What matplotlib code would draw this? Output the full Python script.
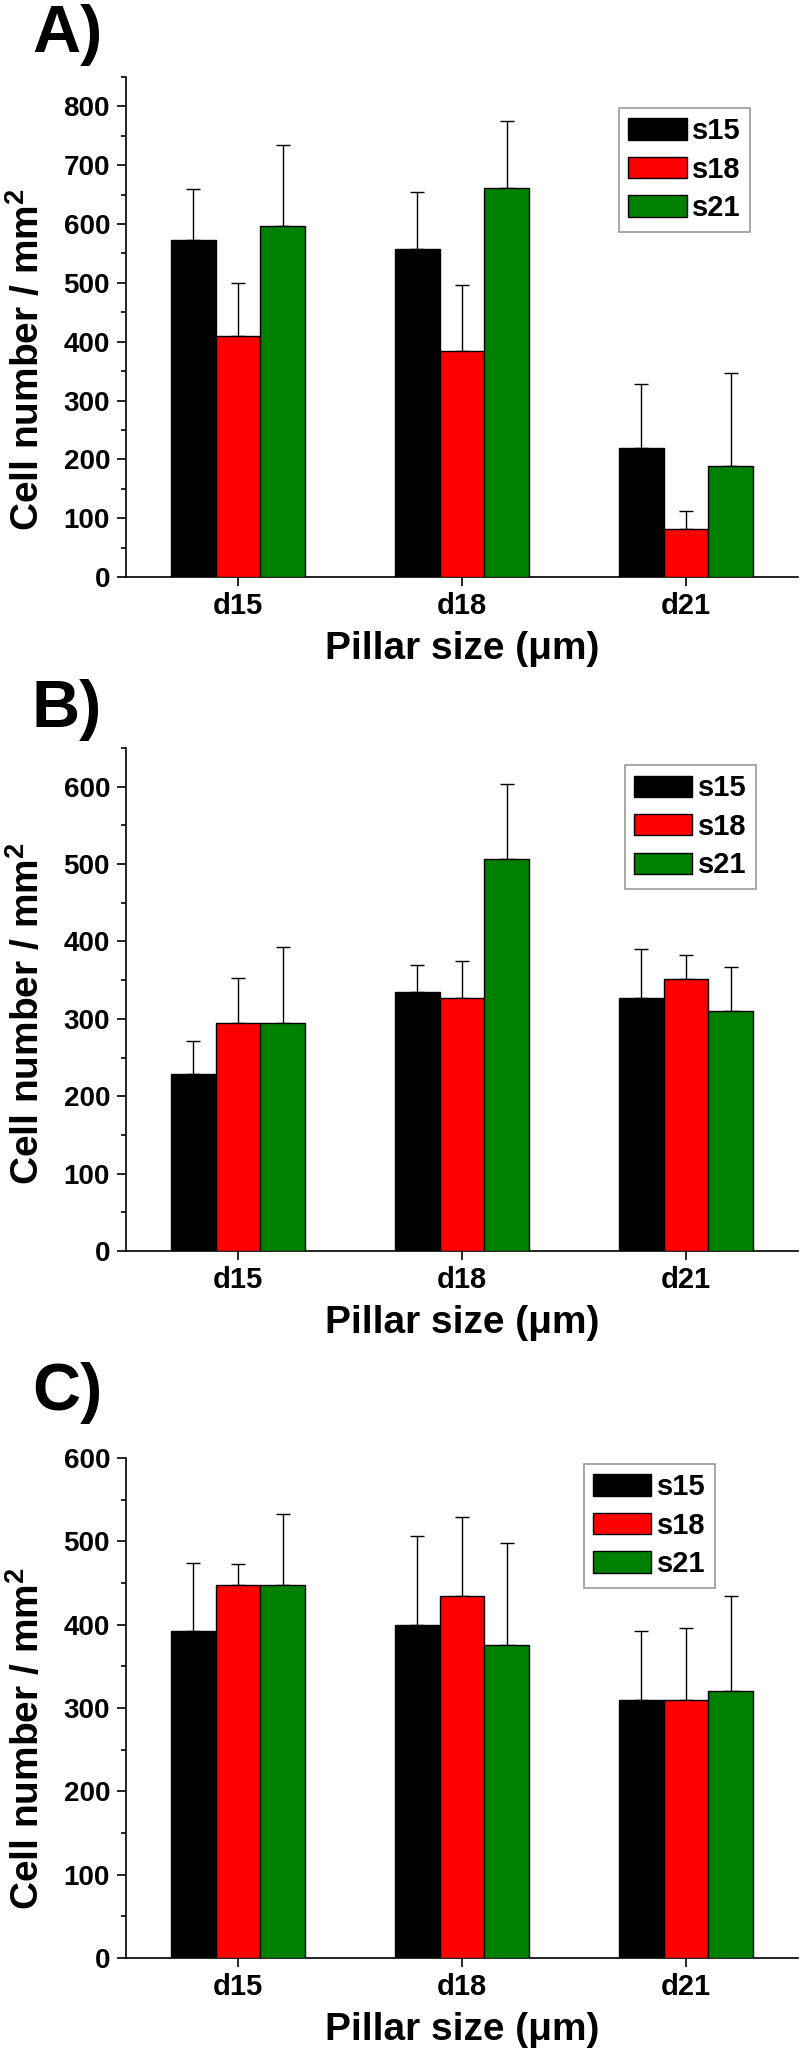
import matplotlib
matplotlib.use('Agg')
import matplotlib.pyplot as plt
from matplotlib.ticker import MultipleLocator, FixedLocator
import numpy as np

plt.rcParams['font.family'] = ['Liberation Sans', 'DejaVu Sans']
plt.rcParams['font.weight'] = 'bold'
plt.rcParams['mathtext.fontset'] = 'custom'
plt.rcParams['mathtext.bf'] = 'Liberation Sans:bold'
plt.rcParams['mathtext.rm'] = 'Liberation Sans:bold'
plt.rcParams['mathtext.default'] = 'bf'

# ---------------- data ----------------
categories = ['d15', 'd18', 'd21']
series = ['s15', 's18', 's21']
colors = ['#000000', '#ff0000', '#008000']

# Panel A
A_s15 = [573, 557, 220]
A_s15_err = [87, 98, 108]
A_s18 = [409, 385, 82]
A_s18_err = [90, 112, 30]
A_s21 = [597, 661, 188]
A_s21_err = [138, 115, 159]

# Panel B
B_s15 = [229, 335, 327]
B_s15_err = [43, 34, 63]
B_s18 = [294, 327, 351]
B_s18_err = [59, 48, 32]
B_s21 = [294, 506, 310]
B_s21_err = [99, 97, 57]

# Panel C
C_s15 = [392, 400, 310]
C_s15_err = [82, 107, 83]
C_s18 = [448, 434, 310]
C_s18_err = [25, 95, 86]
C_s21 = [448, 376, 320]
C_s21_err = [85, 122, 115]

panel_titles = ['A)', 'B)', 'C)']
y_label = r'Cell number / mm$^{\mathbf{2}}$'
x_label = 'Pillar size (\u03bcm)'

# ---------------- layout ----------------
W, H = 800, 2053
fig = plt.figure(figsize=(W / 100, H / 100), dpi=100)

left_px, right_px = 126, 798
panels = [
    dict(name='A', top=77, bottom=577, ymax=850,
         vals=[A_s15, A_s18, A_s21], errs=[A_s15_err, A_s18_err, A_s21_err],
         leg=(0.7336, 0.938), ylab_y=0.434, title_base=52),
    dict(name='B', top=748, bottom=1251, ymax=650,
         vals=[B_s15, B_s18, B_s21], errs=[B_s15_err, B_s18_err, B_s21_err],
         leg=(0.742, 0.966), ylab_y=0.472, title_base=727),
    dict(name='C', top=1458, bottom=1958, ymax=600,
         vals=[C_s15, C_s18, C_s21], errs=[C_s15_err, C_s18_err, C_s21_err],
         leg=(0.681, 0.988), ylab_y=0.438, title_base=1410),
]

x = np.arange(1, len(categories) + 1)
bw = 0.2
offsets = [-bw, 0.0, bw]

for i, p in enumerate(panels):
    ax = fig.add_axes([left_px / W, (H - p['bottom']) / H,
                       (right_px - left_px) / W, (p['bottom'] - p['top']) / H])
    for j in range(3):
        ax.bar(x + offsets[j], p['vals'][j], width=bw, color=colors[j],
               edgecolor='black', linewidth=1.0, label=series[j], zorder=3)
        ax.errorbar(x + offsets[j], p['vals'][j],
                    yerr=[np.zeros(3), p['errs'][j]], fmt='none',
                    ecolor='black', elinewidth=1.0, capsize=4.8, capthick=1.0,
                    zorder=2)
    ax.set_xlim(0.5, 3.5)
    ax.set_ylim(0, p['ymax'])
    ax.xaxis.set_major_locator(FixedLocator(x))
    ax.set_xticklabels(categories)
    ax.yaxis.set_major_locator(MultipleLocator(100))
    ax.yaxis.set_minor_locator(MultipleLocator(50))
    for s in ['top', 'right']:
        ax.spines[s].set_visible(False)
    for s in ['left', 'bottom']:
        ax.spines[s].set_linewidth(1.2)
    ax.tick_params(axis='y', which='major', direction='out', length=6.5,
                   width=1.2, labelsize=20, pad=5)
    ax.tick_params(axis='y', which='minor', direction='out', length=3.5,
                   width=1.2)
    ax.tick_params(axis='x', which='major', direction='out', length=6.5,
                   width=1.2, labelsize=21, pad=4)
    for t in ax.get_xticklabels() + ax.get_yticklabels():
        t.set_fontweight('bold')
    ax.set_ylabel(y_label, fontsize=28, fontweight='bold')
    ax.yaxis.set_label_coords(-0.1175, p['ylab_y'])
    ax.set_xlabel(x_label, fontsize=28, fontweight='bold', labelpad=8)
    leg = ax.legend(loc='upper left', bbox_to_anchor=p['leg'],
                    borderaxespad=0, fontsize=21, handlelength=2.0,
                    handleheight=0.75, handletextpad=0.2, labelspacing=0.36,
                    borderpad=0.32, fancybox=False, framealpha=1,
                    edgecolor='#9a9a9a')
    leg.get_frame().set_linewidth(1.2)
    for t in leg.get_texts():
        t.set_fontweight('bold')
    fig.text(32 / W, (H - p['title_base']) / H, panel_titles[i],
             fontsize=48, fontweight='bold', ha='left', va='baseline')

fig.savefig('out.png', dpi=100)
